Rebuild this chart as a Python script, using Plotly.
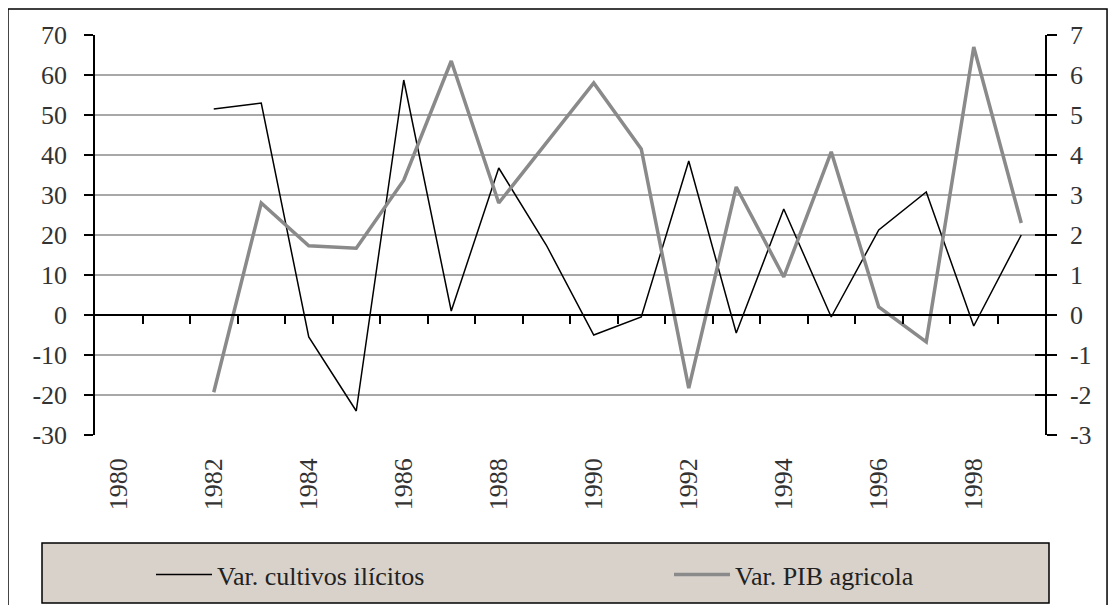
import plotly.graph_objects as go

years = list(range(1982, 2000))
cultivos = [51.5, 53, -5.5, -24, 58.75, 1.0, 36.75, 17.5, -5, -0.5, 38.5, -4.5, 26.5, -0.5, 21.25, 30.75, -2.75, 20]
pib = [-1.93, 2.8, 1.73, 1.67, 3.37, 6.35, 2.8, 4.3, 5.8, 4.15, -1.83, 3.2, 0.95, 4.08, 0.2, -0.67, 6.7, 2.3]
tick_years = list(range(1980, 2000, 2))
left_ticks = list(range(-30, 80, 10))
right_ticks = list(range(-3, 8))
name_cultivos = "Var. cultivos ilícitos"
name_pib = "Var. PIB agricola"

FONT = "Liberation Serif"
FS = 26
boundaries = [y + 0.5 for y in range(1980, 1999)]

fig = go.Figure()
fig.add_trace(go.Scatter(x=years, y=cultivos, name=name_cultivos, mode="lines",
                         line=dict(color="black", width=1.5), xaxis="x", yaxis="y",
                         legend="legend"))
fig.add_trace(go.Scatter(x=years, y=pib, name=name_pib, mode="lines",
                         line=dict(color="#8a8a8a", width=3.5), xaxis="x", yaxis="y2",
                         legend="legend2"))
# invisible helpers so the overlay axes (zero-line category ticks, inner right ticks) render
fig.add_trace(go.Scatter(x=[1980], y=[0], xaxis="x2", yaxis="y", mode="lines",
                         showlegend=False, hoverinfo="skip", line=dict(width=0)))
fig.add_trace(go.Scatter(x=[1980], y=[0], xaxis="x", yaxis="y3", mode="lines",
                         showlegend=False, hoverinfo="skip", line=dict(width=0)))

legend_common = dict(orientation="h", xanchor="left", y=-0.349, yanchor="middle",
                     bgcolor="rgba(0,0,0,0)", borderwidth=0, itemwidth=56,
                     font=dict(family=FONT, size=FS, color="#222222"))

fig.update_layout(
    width=1100, height=630,
    margin=dict(l=87, r=63, t=27, b=203),
    paper_bgcolor="white", plot_bgcolor="white",
    font=dict(family=FONT, size=FS, color="#333333"),
    xaxis=dict(range=[1979.5, 1999.5], tickvals=tick_years, ticktext=[str(t) for t in tick_years],
               tickangle=-90, showgrid=False, showline=False, ticks="", zeroline=False,
               ticklabelstandoff=17, automargin=False,
               tickfont=dict(family=FONT, size=FS, color="#333333")),
    xaxis2=dict(range=[1979.5, 1999.5], overlaying="x", anchor="free", position=0.3,
                side="bottom", tickvals=boundaries, showticklabels=False, ticks="outside",
                ticklen=8, tickcolor="black", tickwidth=1.5, showline=True, linecolor="black",
                linewidth=1.5, showgrid=False, zeroline=False, automargin=False),
    yaxis=dict(range=[-30, 70], tickvals=left_ticks, ticktext=[str(v) for v in left_ticks],
               showline=True, linecolor="black", linewidth=1.5,
               ticks="outside", ticklen=9, tickcolor="black", tickwidth=1.5,
               showgrid=True, gridcolor="#a8a8a8", gridwidth=1.5, zeroline=False,
               ticklabelstandoff=12, automargin=False),
    yaxis2=dict(range=[-3, 7], tickvals=right_ticks, ticktext=[str(v) for v in right_ticks],
                overlaying="y", side="right", anchor="x",
                showline=True, linecolor="black", linewidth=1.5, ticks="outside", ticklen=10,
                tickcolor="black", tickwidth=1.5, showgrid=False, zeroline=False,
                ticklabelstandoff=8, automargin=False),
    yaxis3=dict(range=[-3, 7], tickvals=right_ticks, overlaying="y", side="right", anchor="x",
                showline=False, ticks="inside", ticklen=10, tickcolor="black", tickwidth=1.5,
                showticklabels=False, showgrid=False, zeroline=False, automargin=False),
    legend=dict(x=(151 - 95) / 950, **legend_common),
    legend2=dict(x=(669 - 95) / 950, **legend_common),
    showlegend=True,
    shapes=[
        dict(type="rect", xref="paper", yref="paper", x0=-0.0916, x1=1.0653, y0=-0.47, y1=1.065,
             line=dict(color="black", width=1.5), fillcolor="rgba(0,0,0,0)", layer="below"),
        dict(type="rect", xref="paper", yref="paper", x0=(42 - 95) / 950, x1=(1049 - 95) / 950,
             y0=(435 - 603) / 400, y1=(435 - 543) / 400,
             line=dict(color="black", width=1.5), fillcolor="#d9d2cb", layer="below"),
    ],
)

fig.write_html("out.html")
